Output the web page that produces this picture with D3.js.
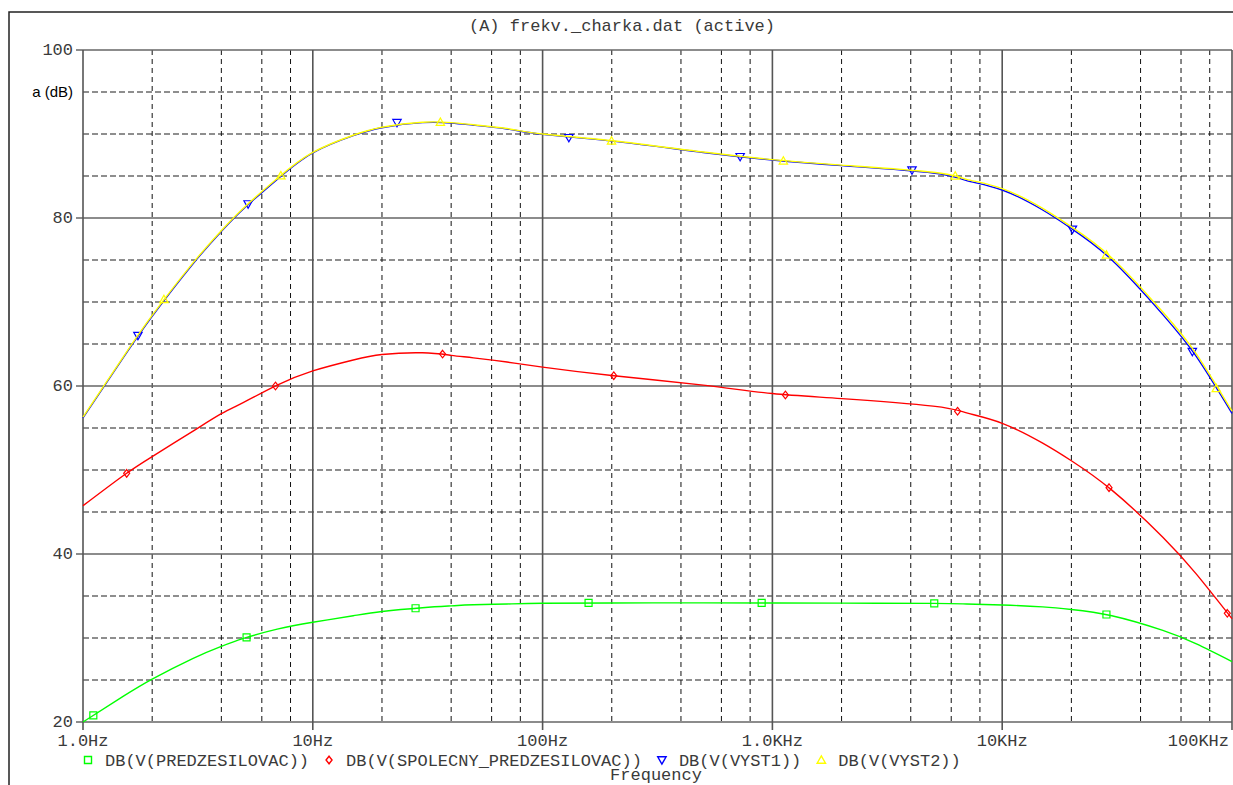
<!DOCTYPE html>
<html>
<head>
<meta charset="utf-8">
<script src="https://cdn.jsdelivr.net/npm/d3@7"></script>
<style>
    body { margin: 0; background: #fff; }
    svg { display: block; }
    .mono { font-family: "Liberation Mono", "Courier New", monospace; font-size: 17px; fill: #3a3a3a; }
</style>
</head>
<body>
<svg id="chart"></svg>
<script>
// sample frequencies (Hz) for the traces
const freqs = [1, 1.5, 2, 3, 4, 5, 7, 10, 15, 20, 30, 40, 50, 70, 100, 200, 500,
    1000, 2000, 5000, 7000, 10000, 15000, 20000, 30000, 50000, 70000, 100000];

// trace values in dB
const predzesilovac = [20.0, 23.07, 25.1, 27.55, 29.0, 29.95, 31.05, 31.87, 32.65, 33.15, 33.6, 33.82, 33.95, 34.05,
    34.13, 34.17, 34.18, 34.17, 34.15, 34.12, 34.05, 33.93, 33.7, 33.4, 32.65, 30.9, 29.3, 27.2];
const spolecny = [45.75, 49.35, 51.6, 54.6, 56.7, 58.05, 60.1, 61.8, 63.1, 63.75, 63.95, 63.65, 63.35, 62.85,
    62.25, 61.25, 60.1, 59.1, 58.5, 57.6, 56.8, 55.56, 53.2, 51.1, 47.6, 42.0, 37.6, 32.3];
const vyst1 = [56.2, 63.4, 68.3, 74.5, 78.4, 81.1, 84.6, 87.75, 89.8, 90.75, 91.35, 91.3, 91.05, 90.6,
    89.96, 89.15, 87.8, 86.9, 86.23, 85.35, 84.45, 83.33, 80.95, 78.75, 75.0, 68.5, 63.5, 56.75];
const vyst2 = [56.3, 63.5, 68.4, 74.6, 78.5, 81.2, 84.7, 87.8, 89.85, 90.8, 91.4, 91.35, 91.1, 90.65,
    90.0, 89.2, 87.85, 86.95, 86.3, 85.45, 84.6, 83.5, 81.15, 78.95, 75.25, 68.8, 63.8, 57.0];

// marker positions (frequency, dB) for each trace
const markerFreqPred = [1.109, 5.15, 28.0, 158.5, 898, 5062, 28420];
const markerDbPred = [20.8, 30.08, 33.54, 34.17, 34.17, 34.13, 32.8];
const markerFreqSpol = [1.549, 6.88, 36.7, 204, 1139, 6393, 29170, 95400];
const markerDbSpol = [49.6, 60.0, 63.8, 61.23, 58.93, 57.0, 47.9, 32.94];
const markerFreqV1 = [1.734, 5.23, 23.25, 130.1, 723.7, 4050, 20210, 67200];
const markerDbV1 = [66.0, 81.67, 91.35, 89.56, 87.3, 85.7, 78.65, 64.1];
const markerFreqV2 = [2.25, 7.26, 35.9, 199.5, 1116, 6246, 28420, 85440];
const markerDbV2 = [70.3, 85.04, 91.4, 89.17, 86.8, 85.0, 75.6, 59.7];

// axis ticks
const xMajor = [1, 10, 100, 1000, 10000, 100000];
const xLabels = ['1.0Hz', '10Hz', '100Hz', '1.0KHz', '10KHz', '100KHz'];
const yMajor = [20, 40, 60, 80, 100];
const yMinor = [25, 30, 35, 45, 50, 55, 65, 70, 75, 85, 90, 95];
const minorMult = [2, 4, 6, 8];

const seriesNames = ['DB(V(PREDZESILOVAC))', 'DB(V(SPOLECNY_PREDZESILOVAC))', 'DB(V(VYST1))', 'DB(V(VYST2))'];
const seriesColors = ['#00ff00', '#ff0000', '#0000ff', '#ffff00'];
const seriesShapes = ['square', 'diamond', 'down', 'up'];

const config = {
    width: 1233,
    height: 785,
    margin: {top: 50, right: 1, bottom: 63, left: 83}
};

const svg = d3.select('#chart')
    .attr('width', config.width)
    .attr('height', config.height);

const xScale = d3.scaleLog()
    .domain([1, 100000])
    .range([config.margin.left, config.width - config.margin.right]);

const yScale = d3.scaleLinear()
    .domain([20, 100])
    .range([config.height - config.margin.bottom, config.margin.top]);

const x0 = xScale.range()[0], x1 = xScale.range()[1];
const y0 = yScale.range()[0], y1 = yScale.range()[1];

// outer frame
svg.append('path')
    .attr('d', `M9,${config.height} L9,12 L${config.width},12`)
    .attr('fill', 'none')
    .attr('stroke', '#222')
    .attr('stroke-width', 1.5);

svg.append('text')
    .attr('class', 'mono')
    .attr('x', 622)
    .attr('y', 31)
    .attr('text-anchor', 'middle')
    .text('(A) frekv._charka.dat (active)');

// grid: horizontal dashed minor lines
svg.append('g').selectAll('line')
    .data(yMinor)
    .join('line')
    .attr('x1', x0).attr('x2', x1)
    .attr('y1', d => yScale(d)).attr('y2', d => yScale(d))
    .attr('stroke', '#6a6a6a')
    .attr('stroke-width', 1.6)
    .attr('stroke-dasharray', '6,3');

// grid: vertical dashed minor lines
let minorX = [];
xMajor.slice(0, -1).forEach(dec => minorMult.forEach(m => minorX.push(dec * m)));
svg.append('g').selectAll('line')
    .data(minorX)
    .join('line')
    .attr('x1', d => xScale(d)).attr('x2', d => xScale(d))
    .attr('y1', y1).attr('y2', y0)
    .attr('stroke', '#111')
    .attr('stroke-width', 1)
    .attr('stroke-dasharray', '5,4');

// grid: major solid lines
svg.append('g').selectAll('line')
    .data(yMajor)
    .join('line')
    .attr('x1', x0 - 7).attr('x2', x1)
    .attr('y1', d => yScale(d)).attr('y2', d => yScale(d))
    .attr('stroke', '#666')
    .attr('stroke-width', 1.6);

svg.append('g').selectAll('line')
    .data(xMajor)
    .join('line')
    .attr('x1', d => xScale(d)).attr('x2', d => xScale(d))
    .attr('y1', y1).attr('y2', y0 + 8)
    .attr('stroke', '#555')
    .attr('stroke-width', 1.6);

// axis labels
svg.append('g').selectAll('text')
    .data(yMajor)
    .join('text')
    .attr('class', 'mono')
    .attr('x', x0 - 10)
    .attr('y', d => yScale(d) + 5)
    .attr('text-anchor', 'end')
    .text(d => d);

svg.append('text')
    .attr('x', 73)
    .attr('y', 97)
    .attr('text-anchor', 'end')
    .style('font-family', '"Liberation Sans", Arial, sans-serif')
    .style('font-size', '15px')
    .text('a (dB)');

svg.append('g').selectAll('text')
    .data(xMajor)
    .join('text')
    .attr('class', 'mono')
    .attr('x', (d, i) => i === xMajor.length - 1 ? xScale(d) - 3 : xScale(d))
    .attr('y', 746)
    .attr('text-anchor', (d, i) => i === xMajor.length - 1 ? 'end' : 'middle')
    .text((d, i) => xLabels[i]);

svg.append('text')
    .attr('class', 'mono')
    .attr('x', 656)
    .attr('y', 780)
    .attr('text-anchor', 'middle')
    .text('Frequency');

// marker shapes
function markerPath(shape) {
    if (shape === 'square') return 'M-3.5,-3.5 L3.5,-3.5 L3.5,3.5 L-3.5,3.5 Z';
    if (shape === 'diamond') return 'M0,-3.8 L3,0 L0,3.8 L-3,0 Z';
    if (shape === 'down') return 'M-4.2,-3.2 L4.2,-3.2 L0,4.2 Z';
    return 'M-4.2,3.2 L4.2,3.2 L0,-4.2 Z';
}

// traces
const traces = [predzesilovac, spolecny, vyst1, vyst2];
const markerFreqs = [markerFreqPred, markerFreqSpol, markerFreqV1, markerFreqV2];
const markerDbs = [markerDbPred, markerDbSpol, markerDbV1, markerDbV2];

const line = d3.line()
    .x(d => xScale(d[0]))
    .y(d => yScale(d[1]))
    .curve(d3.curveNatural);

const plot = svg.append('g');

traces.forEach((vals, s) => {
    plot.append('path')
        .datum(freqs.map((f, i) => [f, vals[i]]))
        .attr('d', line)
        .attr('fill', 'none')
        .attr('stroke', seriesColors[s])
        .attr('stroke-width', 1.4);

    plot.append('g').selectAll('path')
        .data(markerFreqs[s].map((f, i) => [f, markerDbs[s][i]]))
        .join('path')
        .attr('transform', d => `translate(${xScale(d[0])},${yScale(d[1])})`)
        .attr('d', markerPath(seriesShapes[s]))
        .attr('fill', 'none')
        .attr('stroke', seriesColors[s])
        .attr('stroke-width', 1.2);
});

// legend
const legend = svg.append('g');
let lx = 88;
seriesNames.forEach((name, s) => {
    legend.append('path')
        .attr('transform', `translate(${lx},${760})`)
        .attr('d', markerPath(seriesShapes[s]))
        .attr('fill', 'none')
        .attr('stroke', seriesColors[s])
        .attr('stroke-width', 1.4);
    const t = legend.append('text')
        .attr('class', 'mono')
        .attr('x', lx + 17)
        .attr('y', 766)
        .text(name);
    lx += 17 + t.node().getComputedTextLength() + 20;
});
</script>
</body>
</html>
